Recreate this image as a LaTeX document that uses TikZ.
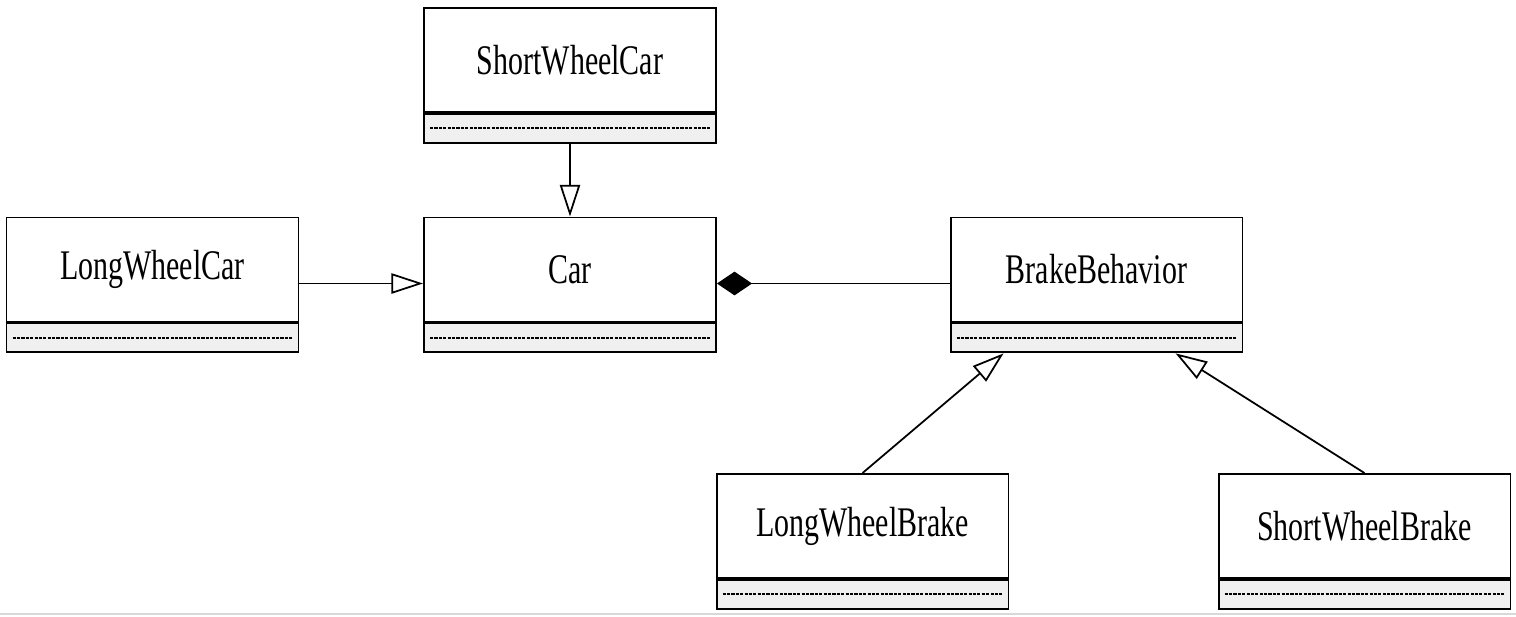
\documentclass[tikz,border=0pt]{standalone}
\usepackage{fontspec}
\setmainfont[FakeStretch=0.71]{Liberation Serif}
\usetikzlibrary{arrows.meta,positioning,calc}
\begin{document}
\begin{tikzpicture}[x=0.02cm,y=-0.02cm,
  cls/.style={draw,line width=1.1pt,fill=white,minimum width=5.84cm,minimum height=2.08cm,inner sep=0pt,font=\fontsize{24}{28}\selectfont},
  comp/.style={draw,line width=1.1pt,fill=black!6,minimum width=5.84cm,minimum height=0.58cm,inner sep=0pt},
  sep/.style={line width=1.2pt,dash pattern=on 1.8pt off 0.7pt},
  gen/.style={line width=1pt,-{Triangle[open,length=18pt,width=11.5pt,line width=1pt]}},
  comp2/.style={line width=1pt,{Diamond[length=20pt,width=13.5pt]}-}]
\useasboundingbox (0,0) rectangle (1516,616);
\draw[black!15,line width=1pt] (0,614) -- (1516,614);
\node[cls] (swc) at (570,60) {ShortWheelCar};
\node[comp,below=0pt of swc] (swcC) {};
\node[cls] (lwc) at (152.5,269.5) {LongWheelCar};
\node[comp,below=0pt of lwc] (lwcC) {};
\node[cls] (car) at (570,269.5) {Car};
\node[comp,below=0pt of car] (carC) {};
\node[cls] (br) at (1096.5,269.5) {BrakeBehavior};
\node[comp,below=0pt of br] (brC) {};
\node[cls] (lwb) at (862.5,526) {LongWheelBrake};
\node[comp,below=0pt of lwb] (lwbC) {};
\node[cls] (swb) at (1364.5,526) {ShortWheelBrake};
\node[comp,below=0pt of swb] (swbC) {};
\foreach \n in {swcC,lwcC,carC,brC,lwbC,swbC}{
  \draw[sep] ($(\n.west)+(7,0)$) -- ($(\n.east)+(-7,0)$);
}
\draw[gen] (swcC.south) -- (car.north);
\draw[gen] ($(lwc.east)+(0,14)$) -- ($(car.west)+(0,14)$);
\draw[comp2] ($(car.east)+(0,14)$) -- ($(br.west)+(0,14)$);
\draw[gen] (lwb.north) -- ($(brC.south west)+(54,0)$);
\draw[gen] (swb.north) -- ($(brC.south west)+(226,0)$);
\end{tikzpicture}
\end{document}
